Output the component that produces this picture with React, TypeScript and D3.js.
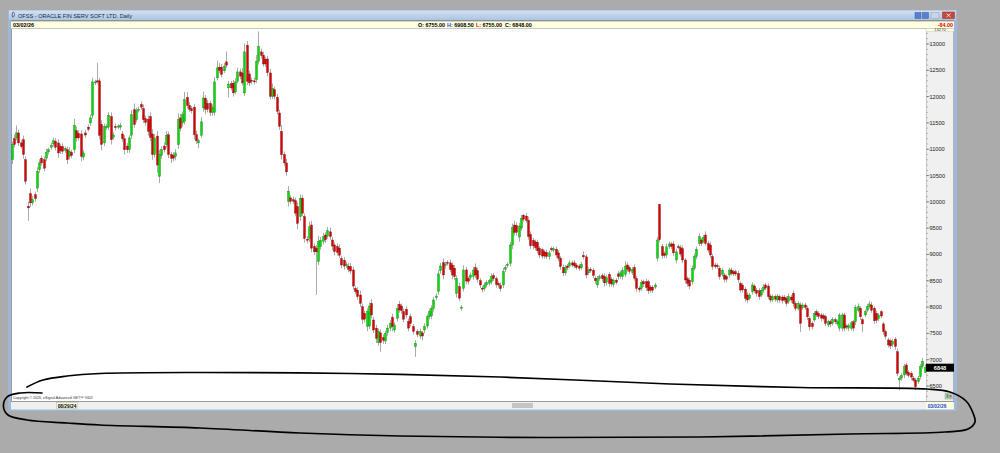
import React from "react";
import * as d3 from "d3";

const W = 1000;
const H = 453;

// Daily OHLC for OFSS (08/29/24 -> 03/02/26)
const opens = [
  10800,11200,11215,11310,11120,11180,10800,9915,10155,9980,
  10135,10260,10610,10830,10800,10830,10950,11035,11100,11150,
  11120,11055,11050,10980,10990,10865,10940,10990,11350,11300,
  11290,10850,11310,11420,11500,11645,12260,12300,12300,11470,
  11120,11410,11420,11620,11230,11430,11420,11420,11290,11200,
  11060,10990,11265,11750,11560,11740,11850,11770,11580,11570,
  11620,11290,10900,11250,
  10485,10885,11060,11085,11275,10900,
  10880,10860,11085,11595,11500,11530,11985,11835,11770,11800,
  11275,11120,11265,11785,11970,11870,11870,11700,11700,12355,
  12560,12560,12490,12660,12165,12250,12255,12090,12290,12470,
  12450,12070,12975,12430,12310,12300,12320,12670,12850,12785,
  12710,12715,12450,12005,12130,11985,11690,11340,10900,10740,
  10010,10075,10040,10020,9910,9720,10070,9720,9290,9305,
  9560,9150,9120,8865,9150,9245,9370,9350,9430,9275,
  9180,9150,9120,8920,8890,8790,8780,8770,8705,8355,
  8320,8230,8005,7880,7630,7640,8070,7755,7600,7325,
  7510,7420,7355,7515,7600,7805,7565,7785,8055,8020,
  7915,7960,7725,7815,7630,7250,7540,7450,7510,
  7565,7640,7815,7830,7975,8180,8295,8690,8845,8790,
  8850,8840,8800,8740,8260,8390,7980,
  8355,8705,8545,8560,8580,8750,8690,8500,8360,8350,8420,8450,
  8480,8600,8540,8450,8410,8420,8720,8790,8830,9180,
  9560,9550,9330,9500,9745,9730,9650,9380,9270,9240,
  9230,9115,9090,9050,9040,8960,9110,9080,9100,9030,
  8930,8750,8650,8780,8780,8840,8840,8800,8780,8750,
  8980,8955,8650,8720,8700,8550,8420,8540,8600,8580,
  8470,8620,8530,8430,8510,8630,8590,8580,8620,8800,
  8750,8660,8750,8545,8360,8355,8480,8480,8480,8380,
  8380,8380,8930,9950,9150,9020,8990,9150,9200,9200,
  8895,9150,9130,9110,8895,8540,8510,8480,8735,8960,
  9210,9275,9250,9370,9210,9180,8960,8800,8790,8735,
  8620,8610,8580,8610,8705,8670,8670,8640,8450,8420,
  8340,8230,8165,8290,8400,8320,8310,8230,8320,8420,
  8400,8210,8135,8200,8135,8200,8190,8190,8165,8100,
  8190,8260,8070,7975,8040,7990,8040,7975,7785,7690,
  7755,7915,7880,7850,7840,7820,7660,7720,7690,7760,
  7680,7600,7600,7850,7640,7600,7600,7720,7720,7940,
  7975,7760,7850,7940,8010,8040,7975,7880,7780,7910,
  7680,7535,7375,7360,7290,7390,7150,6615,6650,6710,
  6900,6760,6740,6650,6615,6580,6675,6870,6755,
];

const closes = [
  11090,11090,11310,11120,11050,10900,10390,9885,9980,10040,
  10060,10580,10740,10740,10640,10940,10990,11075,11160,11035,
  10930,10970,10960,11010,10800,10960,10880,11455,11215,11215,
  10865,10930,11270,11380,11595,12280,12280,12290,11265,11090,
  11430,11430,11645,11180,11270,11410,11440,11450,11200,10990,
  10990,11215,11655,11470,11730,11760,11800,11560,11510,11340,
  11225,10900,11215,10700,
  10900,10990,10990,11265,10900,10830,
  10830,10930,11560,11400,11660,11940,11835,11760,11730,11275,
  11160,11160,11520,11975,11760,11760,11700,11790,12280,12545,
  12500,12420,12580,12595,12240,12165,12070,12280,12470,12390,
  12260,12850,12290,12260,12290,12280,12670,12955,12785,12620,
  12620,12455,12005,12160,12005,11720,11435,10895,10740,10570,
  10200,10010,10010,9785,9590,10070,9785,9305,9270,9525,
  9120,9050,9050,9245,9270,9340,9280,9450,9340,9160,
  9055,9040,8985,8800,8780,8810,8720,8685,8400,8295,
  8200,8070,7770,7770,7915,8020,7850,7565,7405,7540,
  7325,7370,7500,7600,7690,7630,7660,7975,7945,7930,
  7770,7850,7600,7690,7540,7310,7480,7540,7450,
  7630,7815,7910,7975,8135,8210,8630,8780,8610,8810,
  8830,8710,8610,8580,8545,8170,8000,
  8705,8495,8490,8610,8705,8610,8530,8420,8340,8420,8470,8500,
  8580,8540,8430,8420,8350,8675,8750,8810,9180,9510,
  9420,9420,9540,9690,9670,9650,9340,9165,9165,9130,
  9070,8990,8970,8970,8960,9030,9090,9110,8990,8930,
  8770,8650,8750,8750,8840,8800,8780,8750,8740,8810,
  8955,8610,8700,8690,8600,8500,8540,8580,8540,8460,
  8560,8450,8440,8510,8470,8580,8650,8700,8780,8720,
  8680,8720,8550,8355,8330,8470,8440,8370,8310,8320,
  8320,8420,9275,9280,8980,8980,9145,9200,9150,9030,
  9050,9140,9010,8895,8515,8450,8400,8735,8960,9100,
  9340,9210,9325,9210,9085,8990,8770,8770,8770,8580,
  8700,8530,8530,8705,8640,8630,8630,8520,8325,8325,
  8165,8135,8230,8420,8310,8260,8200,8320,8380,8360,
  8200,8135,8200,8150,8210,8135,8120,8135,8070,8200,
  8135,8070,7975,8070,7690,8040,7990,7815,7625,7625,
  7880,7850,7820,7790,7785,7690,7720,7680,7770,7720,
  7720,7850,7850,7600,7630,7650,7700,7600,7995,8010,
  7815,7680,7915,8010,8060,7940,7740,7750,7850,7830,
  7535,7445,7280,7260,7350,7250,6740,6645,6700,6870,
  6740,6700,6670,6610,6485,6650,6870,6965,6848,
];

// wick lengths above max(open, close) and below min(open, close), in price units
const upperWick = [
  60,80,140,60,50,80,60,90,100,70, 60,80,70,50,60,70,40,50,60,60,
  70,50,60,40,60,80,50,120,80,60, 70,60,60,50,60,80,40,340,60,90,
  60,50,60,80,50,60,40,50,60,70, 60,50,90,120,60,50,60,80,60,70,
  80,90,70,100,
  90,60,70,80,60,50,60,70,120,80, 60,150,100,60,50,60,80,40,90,120,
  60,70,50,60,90,140,80,60,60,200, 60,50,60,70,80,60,90,160,80,60,
  50,60,120,285,60,70,50,60,80,90, 60,70,60,120,60,80,100,50,60,60,
  80,70,60,60,60,100,80,60,60,110, 60,70,50,70,80,60,50,60,70,60,
  60,50,60,70,60,50,60,80,60,50, 60,70,80,60,60,50,70,60,50,60,
  60,70,50,80,60,50,60,50,60, 60,50,60,40,50,40,60,50,60,60,
  60,50,70,60,80,50,40,60,50, 60,60,70,40,90,60,40,50,60,80,
  60,50,40,50,40,40,60,50,40,40, 60,70,50,40,60,80,80,60,60,60,
  25,60,70,60,50,40,50,40,40,40, 50,50,40,40,50,50,40,60,50,40,
  50,40,50,40,40,50,80,50,50,40, 40,40,50,40,40,60,50,50,40,40,
  40,60,40,60,90,50,40,40,60,50, 40,50,40,60,40,40,40,40,60,10,
  50,40,60,50,40,50,60,40,50,60, 40,40,50,60,60,50,60,40,50,70,
  50,60,50,40,40,50,40,40,40,40, 40,40,40,50,40,40,40,50,40,50,
  40,40,50,40,60,40,50,40,40,40, 40,40,40,40,40,60,40,60,40,40,
  50,40,40,50,40,40,40,40,40,40, 40,40,40,40,40,40,40,40,40,40,
  40,40,40,40,50,60,40,40,40,50, 60,60,40,50,40,40,40,40,40,40,
  40,40,60,40,40,50,40,40,40,40,40,40,50,70,60.5,
];

const lowerWick = [
  80,60,50,60,40,80,60,245,80,50, 60,70,60,50,60,60,50,40,50,60,
  90,60,50,50,80,60,50,60,70,50, 90,60,50,40,60,60,40,50,80,110,
  60,40,60,90,50,50,40,60,60,90, 60,60,70,60,50,40,50,60,60,80,
  70,100,60,150,
  130,70,50,60,70,90,60,70,80,60, 70,60,60,50,50,90,60,100,50,70,
  90,60,70,60,60,50,50,60,40,50, 180,50,70,50,40,60,50,60,70,60,
  60,50,60,60,60,50,60,70,60,50, 60,60,70,90,60,70,100,50,50,60,
  110,80,60,80,60,70,80,60,820,70, 60,50,60,50,60,80,70,60,50,60,
  70,50,60,60,70,50,60,70,90,60, 90,60,70,60,90,60,175,70,60,60,
  60,90,50,60,50,60,60,60,60, 60,60,195,60,60,80,60,50,50,60,
  60,50,60,60,80,60,40,50,80, 70,80,60,50,60,60,60,50,60,60,
  60,60,60,50,50,40,50,50,60,50, 60,60,50,40,60,80,60,60,90,50,
  50,50,60,60,70,50,50,60,50,50, 50,60,40,40,50,60,60,60,50,50,
  40,40,40,40,50,40,50,60,40,40, 50,60,60,40,60,70,60,60,50,60,
  40,60,60,60,50,50,50,50,50,60, 50,50,60,60,60,50,50,40,60,50,
  60,50,60,40,50,60,60,40,50,60, 70,60,60,50,40,50,50,50,40,40,
  50,60,60,40,40,60,40,60,60,50, 40,40,40,60,50,50,60,60,40,50,
  40,60,60,40,50,40,50,50,40,50, 50,50,50,40,60,40,50,60,50,40,
  160,40,40,60,70,50,40,40,50,60, 40,50,40,60,40,40,40,60,60,60,
  60,60,50,60,60,40,60,160,40,40, 40,50,60,60,50,40,60,60,50,60,
  50,60,50,195,50,60,40,40,60,40,65,40,50,40,0,
];

const titleText = "OFSS - ORACLE FIN SERV SOFT LTD. Daily";
const infoDate = "03/02/26";
const ohlcLabels = ["O:", "H:", "L:", "C:"];
const ohlcValues = ["6755.00", "6908.50", "6755.00", "6848.00"];
const ohlcLabelColors = ["#000", "#1a3fd6", "#e00000", "#000"];
const changeText = "-84.00";
const lastPriceText = "6848";
const startDate = "08/29/24";
const endDate = "03/02/26";
const copyrightText = "Copyright © 2026, eSignal Advanced GET™ 9302";

const FONT = "'Liberation Sans', Arial, sans-serif";

// freehand annotation loop drawn over the screenshot
const loopPoints: [number, number][] = [
  [27, 387], [43, 380], [67, 376], [100, 373.5], [200, 372.5], [350, 373.5],
  [500, 377], [670, 384], [800, 387.5], [927, 389], [950, 392], [966, 401],
  [973, 413], [975, 422], [968, 429], [945, 432], [850, 434], [700, 437],
  [550, 437.5], [400, 436], [300, 433], [200, 428], [100, 425], [67, 423],
  [27, 420], [8, 415], [3.5, 407], [7, 397], [20, 393], [42, 393],
];

export default function App() {
  const n = Math.min(opens.length, closes.length);
  const idx = d3.range(n);
  const x = d3.scalePoint<number>().domain(idx).range([11.5, 924.5]);
  const y = d3.scaleLinear().domain([6500, 13000]).range([386, 44]);
  const axisScale = d3
    .scaleLinear()
    .domain([y.invert(401), y.invert(29)])
    .range([401, 29]);
  const majorTicks = axisScale.ticks(14);
  const minorTicks = axisScale.ticks(70);

  const loopPath = d3.line().curve(d3.curveCatmullRom.alpha(0.5))(loopPoints) || "";

  const candles = idx.map((i) => {
    const o = opens[i];
    const c = closes[i];
    const up = c >= o;
    const hi = Math.max(o, c) + (upperWick[i] ?? 0);
    const lo = Math.min(o, c) - (lowerWick[i] ?? 0);
    const cx = Math.round(x(i) as number);
    const yTop = y(Math.max(o, c));
    const yBot = y(Math.min(o, c));
    return { i, cx, up, yHi: y(hi), yLo: y(lo), yTop, yBot };
  });

  const infoX = [418, 447, 476, 505];

  return (
    <svg
      width={W}
      height={H}
      style={{ position: "absolute", left: 0, top: 0, display: "block" }}
      fontFamily={FONT}
    >
      <defs>
        <linearGradient id="titleGrad" x1="0" y1="0" x2="0" y2="1">
          <stop offset="0" stopColor="#d3e2f3" />
          <stop offset="1" stopColor="#a8c3e2" />
        </linearGradient>
        <clipPath id="plotClip">
          <rect x={11} y={29} width={915} height={372} />
        </clipPath>
      </defs>
      {/* desktop background */}
      <rect x={0} y={0} width={W} height={H} fill="#ababab" />

      {/* window frame */}
      <rect x={8} y={10} width={949} height={401} fill="#9db8d9" />
      <rect x={9} y={10.5} width={947} height={10} fill="url(#titleGrad)" />
      <path d="M12.5,12.5 q1.5,-1 2,1 l-0.5,3 q-1,1 -2,0 z" fill="none" stroke="#333" strokeWidth={0.6} />
      <text x={18} y={17.6} fontSize={5.6} fill="#1b2a44">
        {titleText}
      </text>
      {/* window buttons */}
      <rect x={915} y={12.5} width={6} height={6} fill="#5a7fd0" stroke="#3a5aa8" strokeWidth={0.5} />
      <rect x={922.5} y={12.5} width={6} height={6} fill="#5a7fd0" stroke="#3a5aa8" strokeWidth={0.5} />
      <rect x={931} y={12.5} width={8} height={6} fill="#c9d5e4" stroke="#8fa3bd" strokeWidth={0.5} />
      <rect x={942.5} y={12} width={12} height={6.5} fill="#c8473c" stroke="#9b2a22" strokeWidth={0.5} />
      <path d="M946.5,13.5 l4,3.5 M950.5,13.5 l-4,3.5" stroke="#fff" strokeWidth={0.8} />

      {/* info bar */}
      <rect x={11} y={20.5} width={943} height={8} fill="#ffffe1" />
      <line x1={11} y1={20.8} x2={954} y2={20.8} stroke="#555" strokeWidth={0.8} />
      <line x1={11} y1={28.5} x2={954} y2={28.5} stroke="#b9b9b9" strokeWidth={0.6} />
      <text x={13} y={26.6} fontSize={5.4} fontWeight="bold" fill="#000">
        {infoDate}
      </text>
      {ohlcLabels.map((lab, k) => (
        <text key={lab} x={infoX[k]} y={26.6} fontSize={5.4} fontWeight="bold">
          <tspan fill={ohlcLabelColors[k]}>{lab}</tspan>
          <tspan fill="#000"> {ohlcValues[k]}</tspan>
        </text>
      ))}
      <text x={953} y={26.6} fontSize={5.4} fontWeight="bold" fill="#e00000" textAnchor="end">
        {changeText}
      </text>

      {/* plot area */}
      <rect x={11} y={29} width={915} height={372} fill="#ffffff" />
      <line x1={11.5} y1={29} x2={11.5} y2={401} stroke="#9a9a9a" strokeWidth={1} />

      <g clipPath="url(#plotClip)">
        {candles.map((d) => (
          <line
            key={"w" + d.i}
            x1={d.cx + 0.5}
            x2={d.cx + 0.5}
            y1={d.yHi}
            y2={d.yLo}
            stroke="#a0a0a0"
            strokeWidth={0.9}
          />
        ))}
        {candles.map((d) => (
          <rect
            key={"b" + d.i}
            x={d.cx - 0.5}
            y={d.yTop}
            width={2}
            height={Math.max(1, d.yBot - d.yTop)}
            fill={d.up ? "#00de00" : "#d80000"}
            stroke={d.up ? "#1d6b1d" : "#6e0b0b"}
            strokeWidth={0.35}
          />
        ))}
      </g>

      <text x={13} y={398.5} fontSize={3.6} fill="#333">
        {copyrightText}
      </text>

      {/* right price axis */}
      <rect x={926} y={29} width={28} height={372} fill="#f0f0f0" />
      <line x1={926.5} y1={29} x2={926.5} y2={401} stroke="#c8c8c8" strokeWidth={1} />
      <line x1={953.5} y1={29} x2={953.5} y2={401} stroke="#b5b5b5" strokeWidth={1} />
      <rect x={926} y={28.5} width={28} height={3} fill="#ffffe1" stroke="#bbb" strokeWidth={0.4} />
      <text x={940} y={31.3} fontSize={4.2} fill="#444" textAnchor="middle">13270</text>
      {minorTicks.map((t) => (
        <line key={"m" + t} x1={926.5} x2={928} y1={axisScale(t)} y2={axisScale(t)} stroke="#777" strokeWidth={0.5} />
      ))}
      {majorTicks.map((t) => (
        <g key={"M" + t}>
          <line x1={926.5} x2={929.5} y1={axisScale(t)} y2={axisScale(t)} stroke="#555" strokeWidth={0.6} />
          <text x={929.5} y={axisScale(t) + 2} fontSize={5.6} fill="#222">
            {t}
          </text>
        </g>
      ))}
      {/* last price marker */}
      <rect x={926} y={y(6848) - 4} width={28} height={8} fill="#000" />
      <text x={940} y={y(6848) + 2} fontSize={5.6} fill="#fff" textAnchor="middle" fontWeight="bold">
        {lastPriceText}
      </text>
      {/* small corner icon */}
      <rect x={945} y={393} width={8.5} height={6} fill="#c8c8c8" stroke="#888" strokeWidth={0.4} />
      <rect x={946.5} y={394.2} width={2} height={3.5} fill="#2fbf2f" />
      <rect x={949.5} y={395} width={2} height={2.5} fill="#777" />

      {/* bottom date bar */}
      <line x1={11} y1={401.5} x2={954} y2={401.5} stroke="#9a9a9a" strokeWidth={1} />
      <rect x={11} y={402} width={943} height={7.5} fill="#f0f0f0" />
      <rect x={56.5} y={402.6} width={21} height={6} fill="#ffffe1" stroke="#a0a0a0" strokeWidth={0.4} />
      <text x={67} y={407.6} fontSize={4.8} fontWeight="bold" fill="#000" textAnchor="middle">
        {startDate}
      </text>
      <rect x={512} y={403} width={21} height={5} fill="#c4c4c4" />
      <rect x={926} y={402.3} width={27.5} height={6.6} fill="#ffffe1" />
      <text x={937} y={407.5} fontSize={4.8} fontWeight="bold" fill="#2040d0" textAnchor="middle">
        {endDate}
      </text>

      {/* freehand annotation */}
      <path d={loopPath} fill="none" stroke="#000" strokeWidth={1.7} strokeLinecap="round" />
    </svg>
  );
}
